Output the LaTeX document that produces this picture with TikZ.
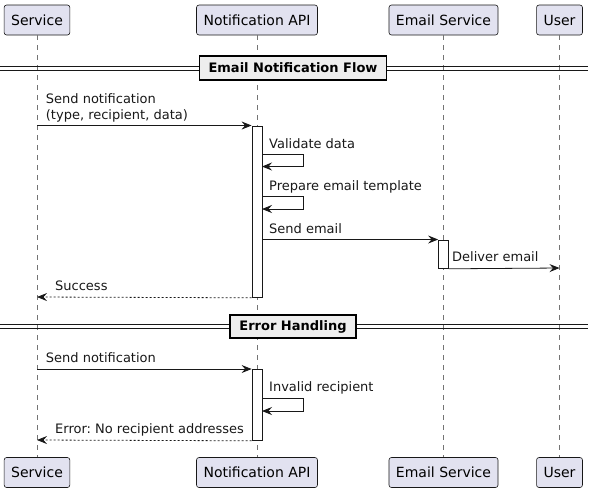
\documentclass[tikz,border=0pt]{standalone}
\usepackage{fontspec}
\setmainfont{DejaVu Sans}
\usetikzlibrary{arrows.meta}
\frenchspacing
\definecolor{partfill}{HTML}{E2E2F0}
\definecolor{linecol}{HTML}{181818}
\definecolor{divfill}{HTML}{EEEEEE}
\tikzset{
  participant/.style={draw=linecol, fill=partfill, rounded corners=2.5pt, line width=0.6pt,
    inner xsep=7pt, inner ysep=0pt, minimum height=30pt, font=\fontsize{14}{16}\selectfont},
  lifeline/.style={draw=linecol!60, line width=0.6pt, dash pattern=on 5pt off 5pt},
  actbox/.style={draw=linecol, fill=white, line width=0.8pt},
  msg/.style={draw=linecol, line width=0.8pt, -{Stealth[length=10pt,width=8pt,inset=3.5pt]}},
  ret/.style={msg, dash pattern=on 2pt off 2pt},
  msgtext/.style={anchor=base west, inner sep=0pt, font=\fontsize{13}{15}\selectfont, text=linecol},
  divline/.style={draw=linecol, line width=0.9pt},
  divbox/.style={draw=black, fill=divfill, line width=1.8pt, inner xsep=9pt, inner ysep=0pt,
    minimum height=23.5pt, font=\bfseries\fontsize{13}{15}\selectfont},
}
\begin{document}
\begin{tikzpicture}[x=1pt,y=-1pt]
\useasboundingbox (0,0) rectangle (593,493);
% participants
\node[participant] (svc) at (37,20) {Service};
\node[participant] (api) at (257,20) {Notification API};
\node[participant] (ems) at (443.5,20) {Email Service};
\node[participant] (usr) at (559.5,20) {User};
\node[participant] (svcB) at (37,472.5) {Service};
\node[participant] (apiB) at (257,472.5) {Notification API};
\node[participant] (emsB) at (443.5,472.5) {Email Service};
\node[participant] (usrB) at (559.5,472.5) {User};
% lifelines
\draw[lifeline] (svc.south) -- (svcB.north);
\draw[lifeline] (api.south) -- (apiB.north);
\draw[lifeline] (ems.south) -- (emsB.north);
\draw[lifeline] (usr.south) -- (usrB.north);

% divider 1
\coordinate (d1l) at (0,68);
\coordinate (d1r) at (587.5,68);
\draw[divline] ([yshift=-2pt]d1l) -- ([yshift=-2pt]d1r);
\draw[divline] ([yshift=2pt]d1l) -- ([yshift=2pt]d1r);
\node[divbox] (div1) at (293,68) {Email Notification Flow};

% activation boxes
\node[actbox, minimum width=10pt, minimum height=171.5pt, inner sep=0pt, anchor=north] (act1) at (257,125.5) {};
\node[actbox, minimum width=10pt, minimum height=28.5pt, inner sep=0pt, anchor=north] (act2) at (443.5,239.5) {};

% coordinates
\coordinate (s1) at (37,125.5);
\coordinate (v1) at (262,154.5);
\coordinate (v1a) at (303,154.5);
\coordinate (v1b) at (303,166.5);
\coordinate (v1c) at (262,166.5);
\coordinate (p1) at (262,196.5);
\coordinate (p1a) at (303,196.5);
\coordinate (p1b) at (303,209);
\coordinate (p1c) at (262,209);
\coordinate (e1) at (262,239.5);
\coordinate (u1) at (559.5,268);
\coordinate (r1) at (37,297);

\draw[msg] (s1) -- (act1.north west);
\node[msgtext] (t1a) at (45.7,103.5) {Send notification};
\node[msgtext] (t1b) at (45.7,119) {(type, recipient, data)};

\draw[msg] (v1) -- (v1a) -- (v1b) -- (v1c);
\node[msgtext] (t2) at (269,148) {Validate data};

\draw[msg] (p1) -- (p1a) -- (p1b) -- (p1c);
\node[msgtext] (t3) at (269,190) {Prepare email template};

\draw[msg] (e1) -- (act2.north west);
\node[msgtext] (t4) at (269,233) {Send email};

\draw[msg] (act2.south east) -- (u1);
\node[msgtext] (t5) at (452,261.5) {Deliver email};

\draw[ret] (act1.south west) -- (r1);
\node[msgtext] (t6) at (55,290.5) {Success};

% divider 2
\coordinate (d2l) at (0,326.5);
\coordinate (d2r) at (587.5,326.5);
\draw[divline] ([yshift=-2pt]d2l) -- ([yshift=-2pt]d2r);
\draw[divline] ([yshift=2pt]d2l) -- ([yshift=2pt]d2r);
\node[divbox] (div2) at (293,326.5) {Error Handling};

\node[actbox, minimum width=10pt, minimum height=71pt, inner sep=0pt, anchor=north] (act3) at (257,369) {};
\coordinate (s2) at (37,369);
\coordinate (i1) at (262,398);
\coordinate (i1a) at (303,398);
\coordinate (i1b) at (303,411);
\coordinate (i1c) at (262,411);
\coordinate (r2) at (37,440);

\draw[msg] (s2) -- (act3.north west);
\node[msgtext] (t7) at (45.7,362.5) {Send notification};

\draw[msg] (i1) -- (i1a) -- (i1b) -- (i1c);
\node[msgtext] (t8) at (269,391.5) {Invalid recipient};

\draw[ret] (act3.south west) -- (r2);
\node[msgtext] (t9) at (55,433.5) {Error: No recipient addresses};
\end{tikzpicture}
\end{document}
